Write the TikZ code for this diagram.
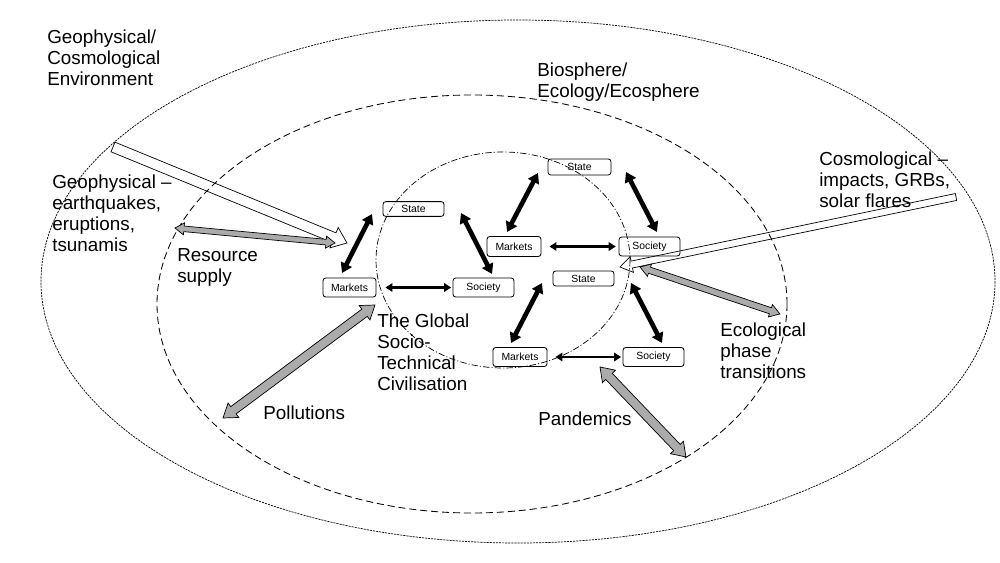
\documentclass[tikz,border=0pt]{standalone}
\usepackage{fontspec}
\setmainfont{Liberation Sans}
\usetikzlibrary{arrows.meta,calc}
\newdimen\bax \newdimen\bay \newdimen\bbx \newdimen\bby
\newcommand\bageom[5]{%
  \pgfextractx{\bax}{\pgfpointanchor{#1}{center}}%
  \pgfextracty{\bay}{\pgfpointanchor{#1}{center}}%
  \pgfextractx{\bbx}{\pgfpointanchor{#2}{center}}%
  \pgfextracty{\bby}{\pgfpointanchor{#2}{center}}%
  \pgfmathsetmacro\baang{atan2(\bby-\bay,\bbx-\bax)}%
  \pgfmathsetmacro\balen{veclen(\bbx-\bax,\bby-\bay)}%
  \pgfmathsetmacro\bahs{#3*0.71132}%
  \pgfmathsetmacro\bahh{#4*0.71132}%
  \pgfmathsetmacro\bahl{#5*0.71132}%
  \pgfmathsetmacro\bab{\balen-\bahl}%
}
\newcommand\singleblock[6]{%
  \bageom{#2}{#3}{#4}{#5}{#6}%
  \draw[#1, shift={(#2)}, rotate=\baang] (0pt,\bahs pt) -- (\bab pt,\bahs pt) -- (\bab pt,\bahh pt) -- (\balen pt,0pt) -- (\bab pt,-\bahh pt) -- (\bab pt,-\bahs pt) -- (0pt,-\bahs pt) -- cycle;
}
\newcommand\doubleblock[6]{%
  \bageom{#2}{#3}{#4}{#5}{#6}%
  \draw[#1, shift={(#2)}, rotate=\baang] (0pt,0pt) -- (\bahl pt,\bahh pt) -- (\bahl pt,\bahs pt) -- (\bab pt,\bahs pt) -- (\bab pt,\bahh pt) -- (\balen pt,0pt) -- (\bab pt,-\bahh pt) -- (\bab pt,-\bahs pt) -- (\bahl pt,-\bahs pt) -- (\bahl pt,-\bahh pt) -- cycle;
}
\begin{document}
\begin{tikzpicture}[x=0.025cm,y=-0.025cm,
  box/.style={draw, rounded corners=2pt, line width=0.6pt, inner sep=0pt, font=\fontsize{7.4}{8}\selectfont},
  lbl/.style={anchor=north west, inner sep=0pt, align=left, font=\fontsize{13.4}{14.9}\selectfont},
  bigarr/.style={line width=3.3pt, {Triangle[length=7pt,width=8.5pt]}-{Triangle[length=7pt,width=8.5pt]}},
  harr/.style={line width=2.1pt, {Triangle[length=5pt,width=6pt]}-{Triangle[length=5pt,width=6pt]}},
  garr/.style={draw, line width=0.5pt, fill=black!33, line join=miter},
  warr/.style={draw, line width=0.5pt, fill=none, line join=miter},
  outerell/.style={line width=0.5pt, dash pattern=on 1.5pt off 0.7pt},
  midell/.style={line width=0.6pt, dash pattern=on 5pt off 2.8pt},
  innerell/.style={line width=0.5pt, dash pattern=on 4.5pt off 1.5pt on 0.8pt off 1.5pt},
]
\useasboundingbox (0,0) rectangle (1000,563);
% spheres
\draw[outerell] (518,281.5) ellipse [x radius=477, y radius=261.5];
\draw[midell] (472,304) ellipse [x radius=315, y radius=209];
\draw[innerell] (503,260) ellipse [x radius=127, y radius=108];

% boxes
\node[box, minimum width=1.525cm, minimum height=0.37cm] (s1) at (413.5,209) {State};
\node[box, minimum width=1.325cm, minimum height=0.475cm] (m1) at (349.5,287.5) {Markets};
\node[box, minimum width=1.525cm, minimum height=0.475cm] (so1) at (483.5,287.5) {Society};
\node[box, minimum width=1.575cm, minimum height=0.4cm] (s2) at (579.5,167) {State};
\node[box, minimum width=1.35cm, minimum height=0.5cm] (m2) at (514,246.5) {Markets};
\node[box, minimum width=1.525cm, minimum height=0.475cm] (so2) at (649.5,246.5) {Society};
\node[box, minimum width=1.525cm, minimum height=0.375cm] (s3) at (583.5,278.5) {State};
\node[box, minimum width=1.35cm, minimum height=0.475cm] (m3) at (520,357) {Markets};
\node[box, minimum width=1.525cm, minimum height=0.475cm] (so3) at (653.5,357) {Society};

% arrow ends
\coordinate (a1s) at (342,273); \coordinate (a1e) at (372,214);
\coordinate (a2s) at (461,213); \coordinate (a2e) at (492,274);
\coordinate (b1s) at (507,232); \coordinate (b1e) at (538,173);
\coordinate (b2s) at (626,172); \coordinate (b2e) at (657,232);
\coordinate (c1s) at (511,343); \coordinate (c1e) at (542,283);
\coordinate (c2s) at (631,283); \coordinate (c2e) at (662,343);

\draw[bigarr] (a1s) -- (a1e);
\draw[bigarr] (a2s) -- (a2e);
\draw[bigarr] (b1s) -- (b1e);
\draw[bigarr] (b2s) -- (b2e);
\draw[bigarr] (c1s) -- (c1e);
\draw[bigarr] (c2s) -- (c2e);
\draw[harr, shorten <=6.4pt, shorten >=1pt] (m1) -- (so1);
\draw[harr, shorten <=5.7pt, shorten >=2pt] (m2) -- (so2);
\draw[harr, shorten <=5.7pt, shorten >=1pt] (m3) -- (so3);

% block arrows
\coordinate (g1t) at (113,147); \coordinate (g1h) at (347,243);
\coordinate (cost) at (956,197); \coordinate (cosh) at (620,267);
\coordinate (rs1) at (175,228); \coordinate (rs2) at (335,243);
\coordinate (ec1) at (640,267); \coordinate (ec2) at (780,314);
\coordinate (po1) at (223,418); \coordinate (po2) at (375,305);
\coordinate (pa1) at (600,367); \coordinate (pa2) at (686,457);

\singleblock{warr}{g1t}{g1h}{5.2}{11}{14}
\singleblock{warr}{cost}{cosh}{3.5}{8}{12}
\doubleblock{garr}{rs1}{rs2}{2.8}{6}{9}
\doubleblock{garr}{ec1}{ec2}{3.2}{6.5}{10}
\doubleblock{garr}{po1}{po2}{4.5}{9}{13}
\doubleblock{garr}{pa1}{pa2}{4.5}{9}{13}

% labels
\node[lbl] (env) at (47,30) {Geophysical/\\Cosmological\\Environment};
\node[lbl] (bio) at (537,63) {Biosphere/\\Ecology/Ecosphere};
\node[lbl] (geo) at (52,175) {Geophysical –\\earthquakes,\\eruptions,\\tsunamis};
\node[lbl] (res) at (177,248) {Resource\\supply};
\node[lbl] (civ) at (377,314) {The Global\\Socio-\\Technical\\Civilisation};
\node[lbl] (cos) at (819,152) {Cosmological –\\impacts, GRBs,\\solar flares};
\node[lbl] (eco) at (720,323) {Ecological\\phase\\transitions};
\node[lbl] (pol) at (263,406) {Pollutions};
\node[lbl] (pan) at (538,412) {Pandemics};
\end{tikzpicture}
\end{document}
